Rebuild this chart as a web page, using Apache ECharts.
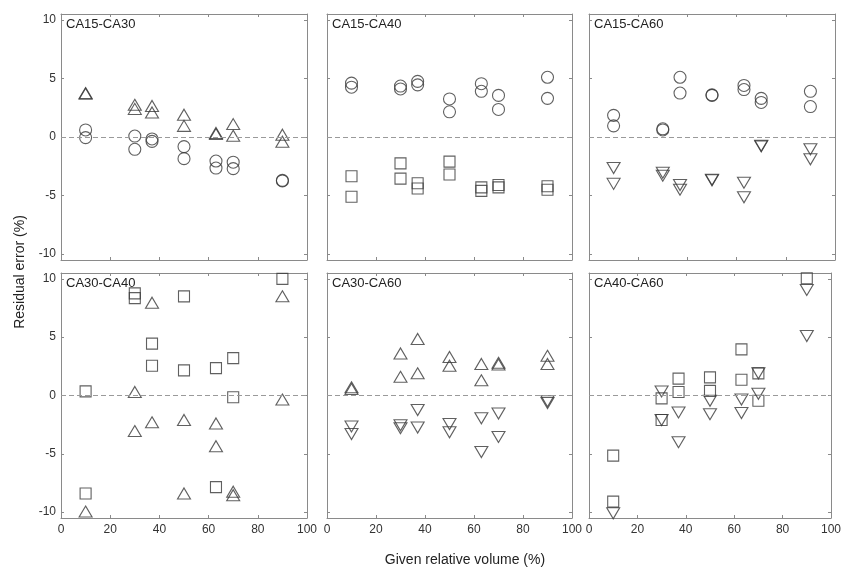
<!DOCTYPE html>
<html>
<head>
<meta charset="utf-8">
<title>Residual error vs given relative volume</title>
<script src="https://cdn.jsdelivr.net/npm/echarts@6/dist/echarts.min.js"></script>
<style>
  html, body { margin: 0; padding: 0; background: #fff; }
  #chart { width: 844px; height: 568px; }
</style>
</head>
<body>
<div id="chart"></div>
<script>
// Given relative volume (%) at which each pair was measured
const volumes = [10, 30, 37, 50, 63, 70, 90];
const yTicks = [-10, -5, 0, 5, 10];

// Residual error (%) per volume, one list of replicates per volume
// CA15-CA30
const p1Up = [[3.75, 3.7], [2.75, 2.4], [2.65, 2.1], [1.9, 0.95], [0.35, 0.25], [1.1, 0.1], [0.2, -0.4]];
const p1Circle = [[0.6, -0.05], [0.08, -1.05], [-0.17, -0.37], [-0.82, -1.85], [-2.05, -2.65], [-2.15, -2.7], [-3.75, -3.7]];
// CA15-CA40
const p2Circle = [[4.6, 4.25], [4.35, 4.1], [4.75, 4.45], [3.25, 2.15], [4.55, 3.9], [3.55, 2.35], [5.1, 3.3]];
const p2Square = [[-3.35, -5.1], [-2.25, -3.55], [-3.95, -4.4], [-2.1, -3.2], [-4.3, -4.6], [-4.1, -4.3], [-4.2, -4.5]];
// CA15-CA60
const p3Circle = [[1.85, 0.95], [0.7, 0.6], [5.1, 3.75], [3.6, 3.55], [4.4, 4.05], [3.3, 2.95], [3.9, 2.6]];
const p3Down = [[-2.65, -4.0], [-3.05, -3.3], [-4.1, -4.5], [-3.65, -3.7], [-3.9, -5.15], [-0.75, -0.8], [-1.05, -1.9]];
// CA30-CA40
const p4Square = [[0.35, -8.4], [8.75, 8.35], [4.45, 2.55], [8.5, 2.15], [2.35, -7.85], [3.2, -0.15], [10.0]];
const p4Up = [[-9.95], [0.3, -3.05], [7.95, -2.3], [-2.1, -8.4], [-2.4, -4.35], [-8.25, -8.55], [8.5, -0.35]];
// CA30-CA60
const p5Up = [[0.7, 0.55], [3.6, 1.6], [4.85, 1.9], [3.3, 2.55], [2.7, 1.3], [2.8, 2.65], [3.4, 2.7]];
const p5Down = [[-2.65, -3.3], [-2.55, -2.8], [-1.25, -2.75], [-2.45, -3.15], [-1.95, -4.85], [-1.55, -3.55], [-0.5, -0.65]];
// CA40-CA60
const p6Square = [[-5.15, -9.1], [-0.25, -2.1], [1.45, 0.3], [1.55, 0.4], [3.95, 1.35], [1.9, -0.45], [10.05]];
const p6Down = [[-10.1], [0.35, -2.1], [-1.45, -4.0], [-0.45, -1.6], [-0.35, -1.5], [1.9, 0.15], [9.05, 5.1]];

const panelNames = ['CA15-CA30', 'CA15-CA40', 'CA15-CA60', 'CA30-CA40', 'CA30-CA60', 'CA40-CA60'];
const panelSeries = [
  [['up', p1Up], ['circle', p1Circle]],
  [['circle', p2Circle], ['square', p2Square]],
  [['circle', p3Circle], ['down', p3Down]],
  [['square', p4Square], ['up', p4Up]],
  [['up', p5Up], ['down', p5Down]],
  [['square', p6Square], ['down', p6Down]]
];

// Panel frames in pixels
const colLeft = [61, 327, 589];
const colWidth = [246, 245, 246];
const rowTop = [14, 273];
const rowHeight = [246, 245];

const FONT = 'Liberation Sans, Arial, sans-serif';
const frameColor = '#8a8a8a';
const markColor = '#383838';

function toPoints(values) {
  const pts = [];
  values.forEach((reps, i) => reps.forEach(v => pts.push([volumes[i], v])));
  return pts;
}

const markerStyle = {
  circle: { symbol: 'circle', symbolSize: 12, symbolRotate: 0 },
  square: { symbol: 'rect', symbolSize: 11, symbolRotate: 0 },
  up: { symbol: 'triangle', symbolSize: [13, 11], symbolRotate: 0 },
  down: { symbol: 'triangle', symbolSize: [13, 11], symbolRotate: 180 }
};

const grids = [], xAxes = [], yAxes = [], series = [], titles = [];

panelNames.forEach((name, p) => {
  const row = Math.floor(p / 3), col = p % 3;
  grids.push({
    left: colLeft[col], top: rowTop[row],
    width: colWidth[col], height: rowHeight[row],
    containLabel: false
  });
  const tick = { show: true, inside: true, length: 3, lineStyle: { color: frameColor, width: 1 } };
  const line = { show: true, onZero: false, lineStyle: { color: frameColor, width: 1 } };
  // bottom + top x axes
  xAxes.push({
    gridIndex: p, type: 'value', position: 'bottom', min: 0, max: 100, interval: 20,
    axisLine: line, axisTick: tick, splitLine: { show: false },
    axisLabel: { show: row === 1, margin: 6, color: '#333', fontSize: 12, fontFamily: FONT }
  });
  xAxes.push({
    gridIndex: p, type: 'value', position: 'top', min: 0, max: 100, interval: 20,
    axisLine: line, axisTick: tick, splitLine: { show: false }, axisLabel: { show: false }
  });
  // left + right y axes
  yAxes.push({
    gridIndex: p, type: 'value', position: 'left', min: -10.5, max: 10.5,
    axisLine: line,
    axisTick: Object.assign({ customValues: yTicks }, tick),
    splitLine: { show: false },
    axisLabel: { show: col === 0, customValues: yTicks, margin: 5, color: '#333', fontSize: 12, fontFamily: FONT }
  });
  yAxes.push({
    gridIndex: p, type: 'value', position: 'right', min: -10.5, max: 10.5,
    axisLine: line,
    axisTick: Object.assign({ customValues: yTicks }, tick),
    splitLine: { show: false }, axisLabel: { show: false }
  });

  titles.push({
    text: name, left: colLeft[col] + 5, top: rowTop[row] + 4, padding: 0,
    textStyle: { fontSize: 13, fontWeight: 'normal', color: '#222', fontFamily: FONT }
  });

  panelSeries[p].forEach(([kind, values], k) => {
    const m = markerStyle[kind];
    const s = {
      type: 'scatter',
      xAxisIndex: 2 * p, yAxisIndex: 2 * p,
      data: toPoints(values),
      symbol: m.symbol, symbolSize: m.symbolSize, symbolRotate: m.symbolRotate,
      itemStyle: { color: 'rgba(0,0,0,0)', borderColor: markColor, borderWidth: 1.1 },
      silent: true, z: 3
    };
    if (k === 0) {
      // zero reference line
      s.markLine = {
        silent: true, symbol: ['none', 'none'], label: { show: false },
        lineStyle: { color: '#9a9a9a', type: [5, 3], width: 1 },
        data: [{ yAxis: 0 }], animation: false
      };
    }
    series.push(s);
  });
});

const chart = echarts.init(document.getElementById('chart'), null, { renderer: 'canvas' });
chart.setOption({
  backgroundColor: '#fff',
  animation: false,
  title: titles,
  grid: grids,
  xAxis: xAxes,
  yAxis: yAxes,
  series: series,
  graphic: [
    {
      type: 'text', x: 20, y: 272, rotation: Math.PI / 2,
      style: { text: 'Residual error (%)', fontSize: 14, fontFamily: FONT, fill: '#222',
               textAlign: 'center', textVerticalAlign: 'middle' }
    },
    {
      type: 'text', x: 465, y: 560,
      style: { text: 'Given relative volume (%)', fontSize: 14, fontFamily: FONT, fill: '#222',
               textAlign: 'center', textVerticalAlign: 'middle' }
    }
  ]
});
</script>
</body>
</html>
